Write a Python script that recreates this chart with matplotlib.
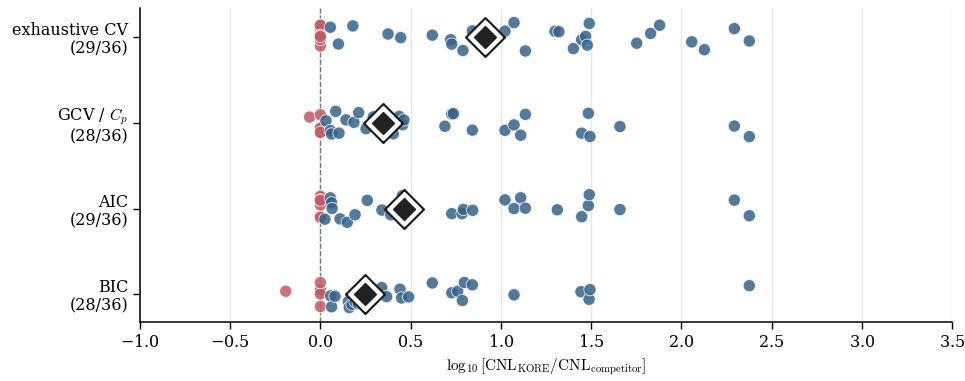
import numpy as np
import matplotlib
matplotlib.use("Agg")
import matplotlib.pyplot as plt

plt.rcParams['font.family'] = 'serif'
plt.rcParams['font.serif'] = ['DejaVu Serif']
plt.rcParams['mathtext.fontset'] = 'cm'
plt.rcParams['axes.formatter.use_mathtext'] = True

methods = ['exhaustive CV\n(29/36)', 'GCV / $C_p$\n(28/36)', 'AIC\n(29/36)', 'BIC\n(28/36)']

# log10 ratio of CNL, KORE vs. each competitor, 36 datasets per method
exhaustive_cv = [0.0, 0.0, 0.0, 0.0, 0.0, 0.0, 0.0,
                 0.055, 0.10, 0.18, 0.375, 0.445, 0.62, 0.722, 0.728, 0.79, 0.842,
                 0.89, 0.934, 1.023, 1.073, 1.136, 1.30, 1.322, 1.402, 1.448, 1.47,
                 1.479, 1.49, 1.753, 1.83, 1.88, 2.058, 2.128, 2.294, 2.377]
gcv_cp = [-0.06, 0.0, 0.0, 0.0, 0.0, 0.0, 0.0, 0.0,
          0.031, 0.055, 0.062, 0.085, 0.103, 0.142, 0.186, 0.212, 0.253, 0.293,
          0.404, 0.437, 0.456, 0.463, 0.69, 0.728, 0.737, 0.842, 1.023, 1.073,
          1.11, 1.136, 1.448, 1.485, 1.494, 1.66, 2.294, 2.377]
aic = [0.0, 0.0, 0.0, 0.0, 0.0, 0.0, 0.0,
       0.025, 0.055, 0.062, 0.065, 0.109, 0.149, 0.192, 0.26, 0.341, 0.39, 0.455,
       0.47, 0.50, 0.524, 0.728, 0.785, 0.792, 0.844, 1.023, 1.073, 1.11, 1.136,
       1.313, 1.448, 1.485, 1.49, 1.66, 2.294, 2.377]
bic = [-0.192, 0.0, 0.0, 0.0, 0.0, 0.0, 0.0, 0.0,
       0.057, 0.062, 0.081, 0.155, 0.16, 0.175, 0.192, 0.21, 0.23, 0.24,
       0.254, 0.30, 0.34, 0.367, 0.441, 0.45, 0.489, 0.62, 0.728, 0.761, 0.787,
       0.798, 0.842, 1.073, 1.444, 1.489, 1.494, 2.377]

groups = [exhaustive_cv, gcv_cp, aic, bic]

blue = '#35628a'
red = '#c05a64'

fig = plt.figure(figsize=(9.65, 3.81), dpi=100)
ax = fig.add_axes([0.145, 0.155, 0.8415, 0.824])

rng = np.random.default_rng(3)
for i, vals in enumerate(groups):
    vals = np.asarray(vals)
    jit = rng.uniform(-0.17, 0.17, len(vals))
    colors = [red if v <= 0 else blue for v in vals]
    ax.scatter(vals, i + jit, s=78, c=colors, alpha=0.85,
               edgecolors='white', linewidths=0.6, zorder=3)
    # median marker: black diamond with a white ring
    med = np.median(vals)
    ax.plot(med, i, marker='D', ms=20.5, color='#1a1a1a', zorder=4)
    ax.plot(med, i, marker='D', ms=17, color='white', zorder=5)
    ax.plot(med, i, marker='D', ms=11, color='#222222', zorder=6)

ax.axvline(0, color='#777777', ls='--', lw=1, zorder=2)

ax.set_xlim(-1.0, 3.5)
ax.set_ylim(3.32, -0.34)
ax.set_xticks(np.arange(-1.0, 3.51, 0.5))
ax.set_yticks(range(len(methods)))
ax.set_yticklabels(methods, fontsize=11.5, linespacing=1.1)
ax.tick_params(axis='x', labelsize=11.5, length=5, width=1)
ax.tick_params(axis='y', length=5, width=1)
ax.xaxis.grid(True, color='#e6e6e6', lw=0.9, zorder=0)
ax.set_axisbelow(True)
ax.set_xlabel(r'$\log_{10}\left[\mathrm{CNL}_\mathrm{KORE}/\mathrm{CNL}_\mathrm{competitor}\right]$',
              fontsize=11)

for side in ['top', 'right']:
    ax.spines[side].set_visible(False)
for side in ['left', 'bottom']:
    ax.spines[side].set_linewidth(1.1)

plt.savefig('out.png', dpi=100)
